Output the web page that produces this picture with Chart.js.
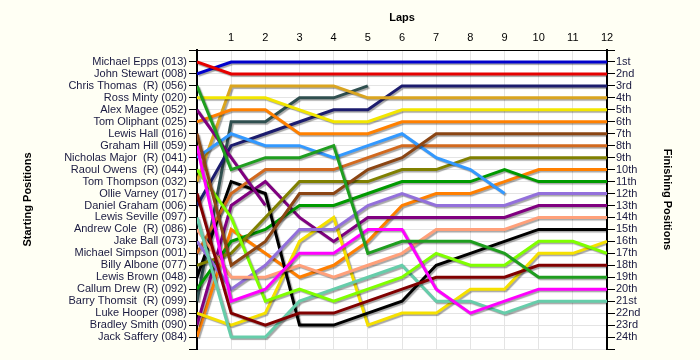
<!DOCTYPE html>
<html>
<head>
<meta charset="utf-8">
<script src="https://cdn.jsdelivr.net/npm/chart.js@4.4.1/dist/chart.umd.min.js"></script>
<style>
  html, body { margin: 0; padding: 0; background: #fffff4; }
  #wrap { width: 700px; height: 360px; position: relative; }
</style>
</head>
<body>
<div id="wrap"><canvas id="lapChart"></canvas></div>
<script>
// laps 0 (grid) to 12
const laps = [0, 1, 2, 3, 4, 5, 6, 7, 8, 9, 10, 11, 12];

// starting grid order, top to bottom
const drivers = [
  'Michael Epps (013)', 'John Stewart (008)', 'Chris Thomas  (R) (056)', 'Ross Minty (020)',
  'Alex Magee (052)', 'Tom Oliphant (025)', 'Lewis Hall (016)', 'Graham Hill (059)',
  'Nicholas Major  (R) (041)', 'Raoul Owens  (R) (044)', 'Tom Thompson (032)', 'Ollie Varney (017)',
  'Daniel Graham (006)', 'Lewis Seville (097)', 'Andrew Cole  (R) (086)', 'Jake Ball (073)',
  'Michael Simpson (001)', 'Billy Albone (077)', 'Lewis Brown (048)', 'Callum Drew (R) (092)',
  'Barry Thomsit  (R) (099)', 'Luke Hooper (098)', 'Bradley Smith (090)', 'Jack Saffery (084)'
];

const finishLabels = [
  '1st', '2nd', '3rd', '4th', '5th', '6th', '7th', '8th', '9th', '10th', '11th', '12th',
  '13th', '14th', '15th', '16th', '17th', '18th', '19th', '20th', '21st', '22nd', '23rd', '24th'
];

// position per lap for each driver (null = retired)
const epps     = [1, 2, 2, 2, 2, 2, 2, 2, 2, 2, 2, 2, 2];
const stewart  = [2, 1, 1, 1, 1, 1, 1, 1, 1, 1, 1, 1, 1];
const thomas   = [3, 10, 9, 9, 8, 17, 16, 16, 16, 17, 19, 19, 19];
const minty    = [4, 4, 4, 5, 6, 6, 5, 5, 5, 5, 5, 5, 5];
const magee    = [5, 9, 13, null, null, null, null, null, null, null, null, null, null];
const oliphant = [6, 5, 5, 7, 7, 7, 6, 6, 6, 6, 6, 6, 6];
const hall     = [7, 18, 16, 12, 12, 10, 9, 7, 7, 7, 7, 7, 7];
const hill     = [8, 21, 20, 17, 17, 15, 15, 20, 22, 21, 20, 20, 20];
const major    = [9, 7, 8, 8, 9, 8, 7, 9, 10, 12, null, null, null];
const owens    = [10, 14, 21, 20, 21, 20, 19, 17, 18, 18, 16, 16, 17];
const thompson = [11, 3, 3, 3, 3, 4, 4, 4, 4, 4, 4, 4, 4];
const varney   = [12, 22, 23, 22, 22, 21, 20, 19, 19, 19, 18, 18, 18];
const graham   = [13, 8, 7, 6, 5, 5, 3, 3, 3, 3, 3, 3, 3];
const seville  = [14, 24, 24, 21, 20, 19, 18, 21, 21, 22, 21, 21, 21];
const cole     = [15, 19, 19, 18, 19, 18, 17, 15, 15, 15, 14, 14, 14];
const ball     = [16, 20, 18, 15, 15, 13, 12, 13, 13, 13, 12, 12, 12];
const simpson  = [17, 12, 10, 10, 10, 9, 8, 8, 8, 8, 8, 8, 8];
const albone   = [18, 17, 14, 11, 11, 11, 10, 10, 9, 9, 9, 9, 9];
const brown    = [19, 11, 12, 23, 23, 22, 21, 18, 17, 16, 15, 15, 15];
const drew     = [20, 16, 15, 13, 13, 12, 11, 11, 11, 10, 11, 11, 11];
const thomsit  = [21, 6, 6, 4, 4, 3, null, null, null, null, null, null, null];
const hooper   = [22, 23, 22, 16, 14, 23, 22, 22, 20, 20, 17, 17, 16];
const smith    = [23, 13, 11, 14, 16, 14, 14, 14, 14, 14, 13, 13, 13];
const saffery  = [24, 15, 17, 19, 18, 16, 13, 12, 12, 11, 10, 10, 10];

const series = [epps, stewart, thomas, minty, magee, oliphant, hall, hill, major, owens, thompson, varney,
                graham, seville, cole, ball, simpson, albone, brown, drew, thomsit, hooper, smith, saffery];

const colours = [
  '#e60000', '#0000cc', '#1f9e1f', '#f2e600', '#800080', '#ff8000', '#8b4513', '#ff00ff',
  '#3399ff', '#80ff00', '#daa520', '#800000', '#1c1c6e', '#66cdaa', '#ffa07a', '#9370db',
  '#d2691e', '#808000', '#000000', '#009a00', '#2f4f4f', '#f5e000', '#800080', '#ff7f00'
];

const datasets = drivers.map((name, i) => ({
  label: name,
  data: laps.map((lap, j) => ({ x: lap, y: series[i][j] })),
  borderColor: colours[i],
  borderWidth: 3,
  pointRadius: 0,
  pointHoverRadius: 0,
  tension: 0,
  spanGaps: false,
  fill: false
}));

// white plot area over the cream page
const plotBg = {
  id: 'plotBg',
  beforeDraw(chart) {
    const { ctx, chartArea: a } = chart;
    ctx.save();
    ctx.fillStyle = '#ffffff';
    ctx.fillRect(a.left, a.top, a.right - a.left, a.bottom - a.top);
    ctx.restore();
  }
};

// soft shadow under each line
const lineShadow = {
  id: 'lineShadow',
  beforeDatasetDraw(chart) {
    const ctx = chart.ctx;
    ctx.save();
    ctx.shadowColor = 'rgba(0,0,0,0.35)';
    ctx.shadowOffsetX = 1.5;
    ctx.shadowOffsetY = 1.5;
    ctx.shadowBlur = 1;
  },
  afterDatasetDraw(chart) {
    chart.ctx.restore();
  }
};

const tickFont = { family: 'Liberation Sans, Arial, sans-serif', size: 11 };
const titleFont = { family: 'Liberation Sans, Arial, sans-serif', size: 11, weight: 'bold' };

new Chart(document.getElementById('lapChart'), {
  type: 'line',
  data: { datasets },
  plugins: [plotBg, lineShadow],
  options: {
    responsive: true,
    maintainAspectRatio: false,
    animation: false,
    layout: { padding: { left: 0, right: 0, top: 0, bottom: 11 } },
    plugins: { legend: { display: false }, tooltip: { enabled: false } },
    scales: {
      x: {
        type: 'linear',
        position: 'top',
        min: 0,
        max: 12,
        afterFit(s) { s.height = 50; },
        ticks: {
          stepSize: 1,
          color: '#000',
          font: tickFont,
          padding: 5,
          maxRotation: 0,
          callback: v => (v === 0 ? '' : String(v))
        },
        grid: { color: '#e4e4e4', drawTicks: false },
        border: { display: true, color: '#000', width: 1 },
        title: { display: true, text: 'Laps', color: '#000', font: titleFont, padding: { top: 11, bottom: 0 } }
      },
      y: {
        type: 'linear',
        position: 'left',
        reverse: true,
        min: 0,
        max: 25,
        afterFit(s) { s.width = 197; },
        ticks: {
          stepSize: 1,
          autoSkip: false,
          color: '#1a1a40',
          font: tickFont,
          padding: 2,
          callback: v => drivers[v - 1] || ''
        },
        grid: { color: '#e4e4e4', tickColor: '#000', tickLength: 8 },
        border: { display: true, color: '#000', width: 2 },
        title: { display: true, text: 'Starting Positions', color: '#000', font: titleFont, padding: { top: 21, bottom: 0 } }
      },
      y2: {
        type: 'linear',
        position: 'right',
        reverse: true,
        min: 0,
        max: 25,
        afterFit(s) { s.width = 93; },
        ticks: {
          stepSize: 1,
          autoSkip: false,
          color: '#1a1a40',
          font: tickFont,
          padding: 1,
          callback: v => finishLabels[v - 1] || ''
        },
        grid: { drawOnChartArea: false, tickColor: '#000', tickLength: 8 },
        border: { display: true, color: '#000', width: 2 },
        title: { display: true, text: 'Finishing Positions', color: '#000', font: titleFont, padding: { top: 26, bottom: 0 } }
      }
    }
  }
});
</script>
</body>
</html>
